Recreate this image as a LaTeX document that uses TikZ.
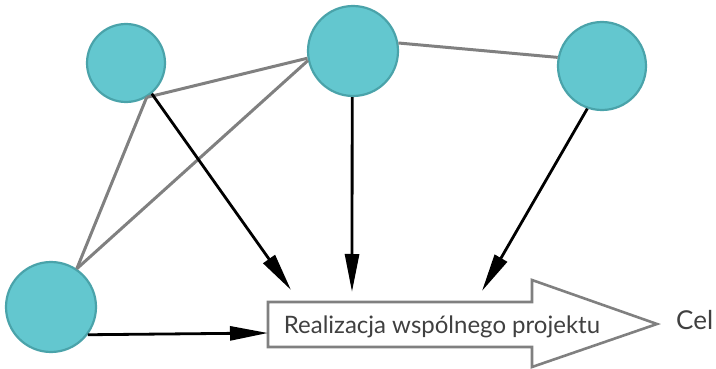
\documentclass[tikz,border=0pt]{standalone}
\usepackage{fontspec}
\setmainfont{Lato}
\usetikzlibrary{arrows.meta}
\definecolor{tealfill}{HTML}{63C7CF}
\definecolor{tealedge}{HTML}{4AA3AA}
\definecolor{linkgray}{HTML}{808080}
\definecolor{txtgray}{HTML}{404040}
\tikzset{
  member/.style={circle, fill=tealfill, draw=tealedge, line width=2.2pt, inner sep=0pt},
  link/.style={draw=linkgray, line width=3pt},
  flow/.style={draw=black, line width=2.8pt, -{Triangle[length=38pt,width=14pt]}},
  bigarrow/.style={draw=linkgray, line width=2.6pt, fill=white, line join=miter},
  lbl/.style={text=txtgray, font=\fontsize{24}{28}\selectfont, inner sep=0pt},
  lblbig/.style={text=txtgray, font=\fontsize{26}{30}\selectfont, inner sep=0pt}
}
\begin{document}
\begin{tikzpicture}[x=1pt,y=-1pt]
\useasboundingbox (0,0) rectangle (716,369);
% nodes
\node[member, minimum size=78pt] (a) at (126,63) {};
\node[member, minimum size=90pt] (b) at (353,51) {};
\node[member, minimum size=88pt] (c) at (602,66) {};
\node[member, minimum size=90pt] (d) at (51,307) {};
% big arrow
\coordinate (p1) at (268,302);
\coordinate (p2) at (532,302);
\coordinate (p3) at (532,280);
\coordinate (tip) at (657,324);
\coordinate (p4) at (532,367);
\coordinate (p5) at (532,347);
\coordinate (p6) at (268,347);
\draw[bigarrow] (p1) -- (p2) -- (p3) -- (tip) -- (p4) -- (p5) -- (p6) -- cycle;
\node[lbl, anchor=base] (proj) at (442,333) {Realizacja wspólnego projektu};
\node[lblbig, anchor=base west] (cel) at (676,329) {Cel};
% gray links
\draw[link] (a.-59) -- (b.189);
\draw[link] (a.-59) -- (d.56);
\draw[link] (d.56) -- (b.192);
\draw[link] (b.10) -- (c.169);
% black flows
\coordinate (t1) at (291,290);
\coordinate (t2) at (352,292);
\coordinate (t3) at (482,291);
\coordinate (t4) at (268,333);
\draw[flow] (a.-50) -- (t1);
\draw[flow] (b.-91) -- (t2);
\draw[flow] (c.-109) -- (t3);
\draw[flow] (d.-37) -- (t4);
\end{tikzpicture}
\end{document}
